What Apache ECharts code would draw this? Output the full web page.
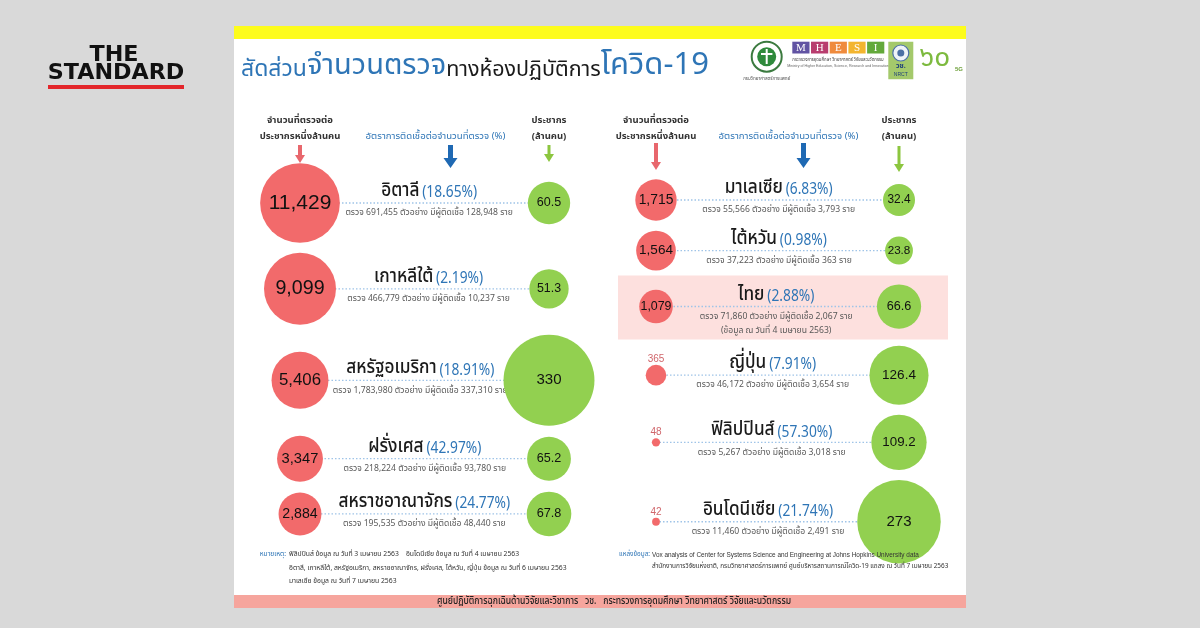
<!DOCTYPE html>
<html><head><meta charset="utf-8">
<script src="https://cdn.jsdelivr.net/npm/echarts@6/dist/echarts.min.js"></script>
<style>html,body{margin:0;padding:0;background:#d9d9d9;}#c{width:1200px;height:628px;}</style>
</head><body><div id="c"></div>
<script>
// ---------- DATA ----------
const leftCountries = ['อิตาลี', 'เกาหลีใต้', 'สหรัฐอเมริกา', 'ฝรั่งเศส', 'สหราชอาณาจักร'];
const leftTestsPerMillion = [11429, 9099, 5406, 3347, 2884];
const leftPositiveRate = [18.65, 2.19, 18.91, 42.97, 24.77];
const leftTests = [691455, 466779, 1783980, 218224, 195535];
const leftInfected = [128948, 10237, 337310, 93780, 48440];
const leftPopulationM = [60.5, 51.3, 330, 65.2, 67.8];
const leftNotes = ['', '', '', '', ''];

const rightCountries = ['มาเลเซีย', 'ไต้หวัน', 'ไทย', 'ญี่ปุ่น', 'ฟิลิปปินส์', 'อินโดนีเซีย'];
const rightTestsPerMillion = [1715, 1564, 1079, 365, 48, 42];
const rightPositiveRate = [6.83, 0.98, 2.88, 7.91, 57.30, 21.74];
const rightTests = [55566, 37223, 71860, 46172, 5267, 11460];
const rightInfected = [3793, 363, 2067, 3654, 3018, 2491];
const rightPopulationM = [32.4, 23.8, 66.6, 126.4, 109.2, 273];
const rightNotes = ['', '', '(ข้อมูล ณ วันที่ 4 เมษายน 2563)', '', '', ''];
const highlightCountry = 'ไทย';

const columnHeaders = ['จำนวนที่ตรวจต่อ\nประชากรหนึ่งล้านคน', 'อัตราการติดเชื้อต่อจำนวนที่ตรวจ (%)', 'ประชากร\n(ล้านคน)'];
const titleParts = ['สัดส่วน', 'จำนวนตรวจ', 'ทางห้องปฏิบัติการ', 'โควิด-19'];
const remarkLabel = 'หมายเหตุ:';
const remarkLines = [
  'ฟิลิปปินส์ ข้อมูล ณ วันที่ 3 เมษายน 2563    อินโดนีเซีย ข้อมูล ณ วันที่ 4 เมษายน 2563',
  'อิตาลี, เกาหลีใต้, สหรัฐอเมริกา, สหราชอาณาจักร, ฝรั่งเศส, ไต้หวัน, ญี่ปุ่น ข้อมูล ณ วันที่ 6 เมษายน 2563',
  'มาเลเซีย ข้อมูล ณ วันที่ 7 เมษายน 2563'
];
const sourceLabel = 'แหล่งข้อมูล:';
const sourceLines = [
  'Vox analysis of Center for Systems Science and Engineering at Johns Hopkins University data',
  'สำนักงานการวิจัยแห่งชาติ, กรมวิทยาศาสตร์การแพทย์ ศูนย์บริหารสถานการณ์โควิด-19 แถลง ณ วันที่ 7 เมษายน 2563'
];
const footerText = 'ศูนย์ปฏิบัติการฉุกเฉินด้านวิจัยและวิชาการ   วช.   กระทรวงการอุดมศึกษา วิทยาศาสตร์ วิจัยและนวัตกรรม';

// ---------- STYLE / SIZING ----------
const TH = "'Noto Sans Thai','Tahoma','Noto Sans','DejaVu Sans',sans-serif";
const NUM = "'Liberation Sans','Arial','Noto Sans Thai',sans-serif";
const RED = '#f26a6b', GREEN = '#92d050', BLUE = '#2e75b6';
const POW = 0.45;
const RED_K = [1.19, 1.45];
const GREEN_K = 6.69;
const clamp = (v, a, b) => Math.max(a, Math.min(b, v));
const redD = (v, p) => RED_K[p] * Math.pow(v, POW);
const greenD = v => GREEN_K * Math.pow(v, POW);
const fmtInt = v => v.toLocaleString('en-US');

function layoutRows(reds, greens, notes, p) {
  const GAP = 10;
  const m = reds.map((v, i) => Math.max(redD(v, p), greenD(greens[i])));
  const ys = [0];
  for (let i = 1; i < m.length; i++) {
    let g = m[i - 1] / 2 + m[i] / 2 + GAP;
    if (notes[i]) g += 4;
    if (notes[i - 1]) g += 7;
    ys.push(ys[i - 1] + g);
  }
  return ys;
}

const GRID_TOP = 145, GRID_H = 400;
const panels = [
  {left: 237.75, width: 373.5, firstRow: 203},
  {left: 595.25, width: 364.5, firstRow: 200}
];

const chart = echarts.init(document.getElementById('c'));

function panelSeries(p, countries, tpm, rate, tests, infected, pop, notes) {
  const ys = layoutRows(tpm, pop, notes, p);
  return [
    {
      type: 'custom', xAxisIndex: p, yAxisIndex: p, z: 1, silent: true,
      data: countries.map((c, i) => [1, ys[i], i]),
      renderItem: (params, api) => {
        const i = api.value(2), y = api.value(1);
        const a = api.coord([0, y]), b = api.coord([1, y]), c = api.coord([2, y]);
        const edgeMid = ((a[0] + redD(tpm[i], p) / 2) + (c[0] - greenD(pop[i]) / 2)) / 2;
        const cx = (b[0] + edgeMid) / 2;
        const ch = [];
        if (countries[i] === highlightCountry) {
          ch.push({type: 'rect', shape: {x: a[0] - 38, y: a[1] - 31, width: c[0] - a[0] + 87, height: 64},
            style: {fill: '#fde0de'}});
        }
        ch.push({type: 'line', shape: {x1: a[0], y1: a[1], x2: c[0], y2: c[1]},
          style: {stroke: '#9fc4e8', lineWidth: 1.3, lineDash: [1.5, 2]}});
        ch.push({type: 'text', x: cx, y: b[1] - 1, scaleX: 0.86, style: {
          text: '{n|' + countries[i] + '} {p|(' + rate[i].toFixed(2) + '%)}',
          x: 0, y: 0, align: 'center', verticalAlign: 'bottom',
          rich: {
            n: {fontSize: 20, fontWeight: 500, fontFamily: TH, fill: '#1a1a1a', verticalAlign: 'bottom', lineHeight: 24},
            p: {fontSize: 16, fontFamily: TH, fill: BLUE, verticalAlign: 'bottom', lineHeight: 24}
          }
        }});
        ch.push({type: 'text', x: cx, y: b[1] + 6, style: {
          text: 'ตรวจ ' + fmtInt(tests[i]) + ' ตัวอย่าง มีผู้ติดเชื้อ ' + fmtInt(infected[i]) + ' ราย',
          x: 0, y: 0, align: 'center', verticalAlign: 'top',
          fontSize: 8.6, fontFamily: TH, fill: '#595959'
        }});
        if (notes[i]) {
          ch.push({type: 'text', x: cx, y: b[1] + 20, style: {
            text: notes[i], x: 0, y: 0, align: 'center', verticalAlign: 'top',
            fontSize: 8.6, fontFamily: TH, fill: '#595959'
          }});
        }
        return {type: 'group', children: ch};
      }
    },
    {
      type: 'scatter', xAxisIndex: p, yAxisIndex: p, z: 3, silent: true,
      data: tpm.map((v, i) => [0, ys[i], v]),
      symbolSize: val => redD(val[2], p),
      itemStyle: {color: RED, opacity: 1},
      label: {show: true, formatter: prm => fmtInt(prm.value[2]), position: 'inside'}
    },
    {
      type: 'scatter', xAxisIndex: p, yAxisIndex: p, z: 3, silent: true,
      data: pop.map((v, i) => [2, ys[i], v]),
      symbolSize: val => greenD(val[2]),
      itemStyle: {color: GREEN, opacity: 1},
      label: {show: true, position: 'inside', formatter: prm => String(prm.value[2]), color: '#111', fontFamily: NUM}
    }
  ];
}

const sL = panelSeries(0, leftCountries, leftTestsPerMillion, leftPositiveRate, leftTests, leftInfected, leftPopulationM, leftNotes);
const sR = panelSeries(1, rightCountries, rightTestsPerMillion, rightPositiveRate, rightTests, rightInfected, rightPopulationM, rightNotes);

// per-item label styling derived from symbol size
function styleRed(series, p) {
  series.data = series.data.map(v => {
    const d = redD(v[2], p);
    const small = d < 25;
    return {value: v, label: small
      ? {position: 'top', distance: 1, color: '#d0666b', fontSize: 10, fontFamily: NUM}
      : {position: 'inside', color: '#111', fontSize: clamp(6 + d * 0.19, 10, 21), fontFamily: NUM}};
  });
}
function styleGreen(series) {
  series.data = series.data.map(v => {
    const d = greenD(v[2]);
    return {value: v, label: {fontSize: clamp(10 + d * 0.06, 10, 15)}};
  });
}
styleRed(sL[1], 0); styleRed(sR[1], 1); styleGreen(sL[2]); styleGreen(sR[2]);

const headerLabel = {
  interval: 0, margin: 0,
  formatter: (v, idx) => idx === 1 ? '{b|' + columnHeaders[1] + '}'
    : columnHeaders[idx].split('\n').map(s => '{k|' + s + '}').join('\n'),
  rich: {
    k: {fontSize: 9.5, color: '#333', fontWeight: 'bold', lineHeight: 16, fontFamily: TH},
    b: {fontSize: 9.6, color: BLUE, lineHeight: 16, fontFamily: TH, padding: [0, 0, 0, 22]}
  }
};

const grids = panels.map(p => ({left: p.left, width: p.width, top: GRID_TOP, height: GRID_H}));
const xAxes = panels.map((p, i) => ({
  type: 'category', gridIndex: i, position: 'top', data: ['a', 'b', 'c'],
  axisLine: {show: false}, axisTick: {show: false}, splitLine: {show: false}, axisLabel: headerLabel
}));
const yAxes = panels.map((p, i) => ({
  type: 'value', gridIndex: i, inverse: true, show: false,
  min: -(p.firstRow - GRID_TOP), max: -(p.firstRow - GRID_TOP) + GRID_H
}));

// ---------- DECORATION ----------
const g = [];
g.push({type: 'rect', z: -10, shape: {x: 234, y: 26, width: 732, height: 582}, style: {fill: '#ffffff'}});
g.push({type: 'rect', z: -9, shape: {x: 234, y: 26, width: 732, height: 13}, style: {fill: '#fdfc1c'}});
g.push({type: 'rect', z: -9, shape: {x: 234, y: 595, width: 732, height: 13}, style: {fill: '#f6a59d'}});
g.push({type: 'text', z: 100, x: 614, y: 602, scaleX: 0.82, style: {text: footerText, x: 0, y: 0, align: 'center', verticalAlign: 'middle',
  fontSize: 10.5, fontWeight: 500, fontFamily: TH, fill: '#222'}});
// THE STANDARD
g.push({type: 'text', x: 114, y: 56, scaleX: 1.06, style: {text: 'THE', x: 0, y: 0, align: 'center', verticalAlign: 'middle',
  fontSize: 21, fontWeight: 900, fontFamily: "'DejaVu Sans',sans-serif", fill: '#111'}});
g.push({type: 'text', x: 116, y: 74, scaleX: 1.06, style: {text: 'STANDARD', x: 0, y: 0, align: 'center', verticalAlign: 'middle',
  fontSize: 21, fontWeight: 900, fontFamily: "'DejaVu Sans',sans-serif", fill: '#111'}});
g.push({type: 'rect', shape: {x: 48, y: 85, width: 136, height: 4}, style: {fill: '#e3262b'}});
// Title
g.push({type: 'text', style: {
  text: '{a|' + titleParts[0] + '}{b|' + titleParts[1] + '}{c|' + titleParts[2] + '}{d|' + titleParts[3] + '}',
  x: 241, y: 83, align: 'left', verticalAlign: 'bottom',
  rich: {
    a: {fontSize: 23, fontFamily: TH, fill: BLUE, verticalAlign: 'bottom', lineHeight: 36},
    b: {fontSize: 29, fontFamily: TH, fill: BLUE, verticalAlign: 'bottom', lineHeight: 36},
    c: {fontSize: 21.5, fontFamily: TH, fill: '#1a1a1a', verticalAlign: 'bottom', lineHeight: 36},
    d: {fontSize: 31, fontFamily: TH, fill: BLUE, verticalAlign: 'bottom', lineHeight: 36}
  }
}});
// logos
g.push({type: 'circle', shape: {cx: 766.7, cy: 56.7, r: 15}, style: {fill: '#ffffff', stroke: '#3b7a3f', lineWidth: 2}});
g.push({type: 'circle', shape: {cx: 766.7, cy: 56.7, r: 9.5}, style: {fill: '#2f8a3c'}});
g.push({type: 'rect', shape: {x: 765.7, y: 49, width: 2, height: 15}, style: {fill: '#fff'}});
g.push({type: 'rect', shape: {x: 761, y: 53, width: 11.4, height: 2}, style: {fill: '#fff'}});
g.push({type: 'text', style: {text: 'กรมวิทยาศาสตร์การแพทย์', x: 766.7, y: 79, align: 'center', verticalAlign: 'middle', fontSize: 4.5, fontFamily: TH, fill: '#555'}});
const mhesi = ['M', 'H', 'E', 'S', 'I'], mhesiC = ['#6153a3', '#b83d6e', '#ef8b3d', '#f3b52f', '#63a93b'];
mhesi.forEach((L, i) => {
  g.push({type: 'rect', shape: {x: 792.3 + i * 18.7, y: 41.7, width: 17.2, height: 11.8}, style: {fill: mhesiC[i]}});
  g.push({type: 'text', style: {text: L, x: 792.3 + i * 18.7 + 8.6, y: 48, align: 'center', verticalAlign: 'middle',
    fontSize: 11, fontFamily: "'Liberation Serif',serif", fill: '#fff'}});
});
g.push({type: 'text', x: 838, y: 60, scaleX: 0.85, style: {text: 'กระทรวงการอุดมศึกษา วิทยาศาสตร์ วิจัยและนวัตกรรม', x: 0, y: 0, align: 'center', verticalAlign: 'middle', fontSize: 5, fontFamily: TH, fill: '#444'}});
g.push({type: 'text', style: {text: 'Ministry of Higher Education, Science, Research and Innovation', x: 838, y: 65.5, align: 'center', verticalAlign: 'middle', fontSize: 3.6, fontFamily: NUM, fill: '#666'}});
g.push({type: 'rect', shape: {x: 888.3, y: 41.7, width: 25, height: 37.6}, style: {fill: '#a4c96b'}});
g.push({type: 'circle', shape: {cx: 900.8, cy: 53, r: 8}, style: {fill: '#eef3f8', stroke: '#4a6fa5', lineWidth: 1.2}});
g.push({type: 'circle', shape: {cx: 900.8, cy: 53, r: 3.5}, style: {fill: '#4a6fa5'}});
g.push({type: 'text', style: {text: 'วช.', x: 900.8, y: 67, align: 'center', verticalAlign: 'middle', fontSize: 7, fontWeight: 'bold', fontFamily: TH, fill: '#1e3f7a'}});
g.push({type: 'text', style: {text: 'NRCT', x: 900.8, y: 74.5, align: 'center', verticalAlign: 'middle', fontSize: 5, fontFamily: NUM, fill: '#1e3f7a'}});
g.push({type: 'text', style: {text: '๖๐', x: 935, y: 60, align: 'center', verticalAlign: 'middle', fontSize: 28, fontFamily: TH, fill: '#7dba3f'}});
g.push({type: 'text', style: {text: '5G', x: 955, y: 69, align: 'left', verticalAlign: 'middle', fontSize: 6, fontWeight: 'bold', fontFamily: NUM, fill: '#6a9e36'}});
// notes
g.push({type: 'text', z: 100, style: {text: remarkLabel, x: 286, y: 555, align: 'right', verticalAlign: 'middle', fontSize: 6.6, fontFamily: TH, fill: BLUE}});
remarkLines.forEach((t, i) => g.push({type: 'text', z: 100, style: {text: t, x: 289, y: 555 + i * 13.3, verticalAlign: 'middle', fontSize: 6.8, fontFamily: TH, fill: '#333'}}));
g.push({type: 'text', z: 100, style: {text: sourceLabel, x: 650, y: 555, align: 'right', verticalAlign: 'middle', fontSize: 6.4, fontFamily: TH, fill: BLUE}});
g.push({type: 'text', z: 100, style: {text: sourceLines[0], x: 652, y: 555, verticalAlign: 'middle', fontSize: 6.4, fontFamily: NUM, fill: '#333'}});
g.push({type: 'text', z: 100, style: {text: sourceLines[1], x: 652, y: 567, verticalAlign: 'middle', fontSize: 6.4, fontFamily: TH, fill: '#333'}});

chart.setOption({
  backgroundColor: '#d9d9d9',
  animation: false,
  grid: grids, xAxis: xAxes, yAxis: yAxes,
  graphic: {elements: g},
  series: sL.concat(sR)
});

// arrows under column headers, positioned from the category axes
const arrowStyles = [
  {color: '#e8676d', shaft: 4, head: 10, headLen: 8, dx: 0},
  {color: '#1f69b3', shaft: 5, head: 14, headLen: 10, dx: 26},
  {color: '#8cc63f', shaft: 3, head: 10, headLen: 8, dx: 0}
];
const arrowSpan = [[[145, 163], [145, 168], [145, 162]], [[143, 170], [143, 168], [146, 172]]];
const arrows = [];
[0, 1].forEach(p => {
  arrowStyles.forEach((st, k) => {
    const x = chart.convertToPixel({xAxisIndex: p}, k) + st.dx;
    const [y0, y1] = arrowSpan[p][k];
    const yh = y1 - st.headLen;
    arrows.push({type: 'polygon', shape: {points: [
      [x - st.shaft / 2, y0], [x + st.shaft / 2, y0], [x + st.shaft / 2, yh], [x + st.head / 2, yh],
      [x, y1], [x - st.head / 2, yh], [x - st.shaft / 2, yh]
    ]}, style: {fill: st.color}});
  });
});
chart.setOption({graphic: {elements: g.concat(arrows)}});
</script>
</body></html>
